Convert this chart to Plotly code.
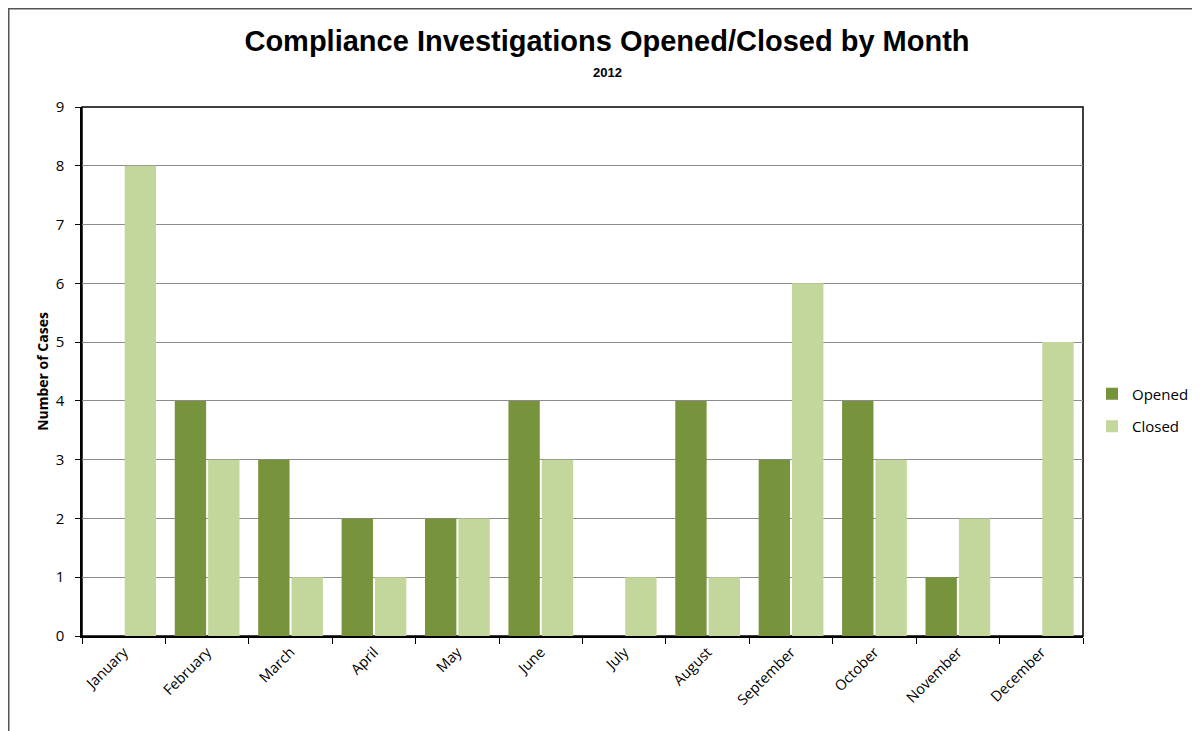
import plotly.graph_objects as go

months = ["January", "February", "March", "April", "May", "June", "July",
          "August", "September", "October", "November", "December"]
opened = [0, 4, 3, 2, 2, 4, 0, 4, 3, 4, 1, 0]
closed = [8, 3, 1, 1, 2, 3, 1, 1, 6, 3, 2, 5]

W, H = 1200, 731
# the page body adds an 8px offset, so the plot area sits at 74..1075 x 99..628 in figure coords
L, R, T, B = 74, 125, 99, 103
pw = W - L - R
ph = H - T - B

def px_x(fx):
    return (fx - L) / pw

def px_y(fy):
    return (H - B - fy) / ph

fig = go.Figure()
fig.add_trace(go.Bar(x=months, y=opened, name="Opened", legendgroup="o",
                     marker=dict(color="#77933C", line=dict(width=0))))
fig.add_trace(go.Bar(x=months, y=closed, name="Closed", legendgroup="c",
                     marker=dict(color="#C3D69B", line=dict(width=0))))

fig.update_layout(
    width=W, height=H,
    margin=dict(l=L, r=R, t=T, b=B, autoexpand=False),
    paper_bgcolor="white", plot_bgcolor="white",
    barmode="group", bargap=0.2, bargroupgap=0.06,
    font=dict(family="Open Sans, sans-serif", size=12, color="black"),
    title=dict(
        text="<b>Compliance Investigations Opened/Closed by Month</b>",
        x=px_x(599), xanchor="center", xref="paper",
        y=1 - 33 / H, yanchor="middle", yref="container",
        font=dict(family="Liberation Sans, Arial, sans-serif", size=29, color="black"),
    ),
    legend=dict(x=px_x(1084), xanchor="left", y=px_y(402), yanchor="middle",
                font=dict(family="Open Sans, sans-serif", size=15),
                itemwidth=30, tracegroupgap=10, bgcolor="rgba(0,0,0,0)"),
    showlegend=True,
)

fig.add_annotation(text="<b>2012</b>", xref="paper", yref="paper",
                   x=px_x(599), y=px_y(64), yanchor="middle", showarrow=False,
                   font=dict(family="Liberation Sans, Arial, sans-serif", size=13))

fig.update_xaxes(
    type="category", tickangle=-45, tickson="boundaries",
    ticks="outside", ticklen=6, tickcolor="black",
    showline=True, linecolor="black", linewidth=2, layer="above traces",
    tickfont=dict(family="Open Sans, sans-serif", size=14.5),
    showgrid=False,
)
fig.update_yaxes(
    range=[0, 9], dtick=1, ticks="outside", ticklen=5, tickcolor="black",
    ticksuffix="  ",
    showline=True, linecolor="black", linewidth=2,
    showgrid=True, gridcolor="#8C8C8C", gridwidth=1,
    tickfont=dict(family="Open Sans, sans-serif", size=15),
    title=dict(text="<b>Number of Cases</b>", standoff=4,
               font=dict(family="Open Sans, sans-serif", size=14)),
    zeroline=False,
)

# plot area frame and outer chart frame
fig.add_shape(type="rect", xref="paper", yref="paper", x0=0, x1=1, y0=0, y1=1,
              line=dict(color="black", width=1.5), layer="below")
fig.add_shape(type="rect", xref="paper", yref="paper",
              x0=px_x(0.75), x1=px_x(W + 20),
              y0=px_y(H + 20), y1=px_y(0.75),
              line=dict(color="#555555", width=1.5))

fig.write_html("out.html")
